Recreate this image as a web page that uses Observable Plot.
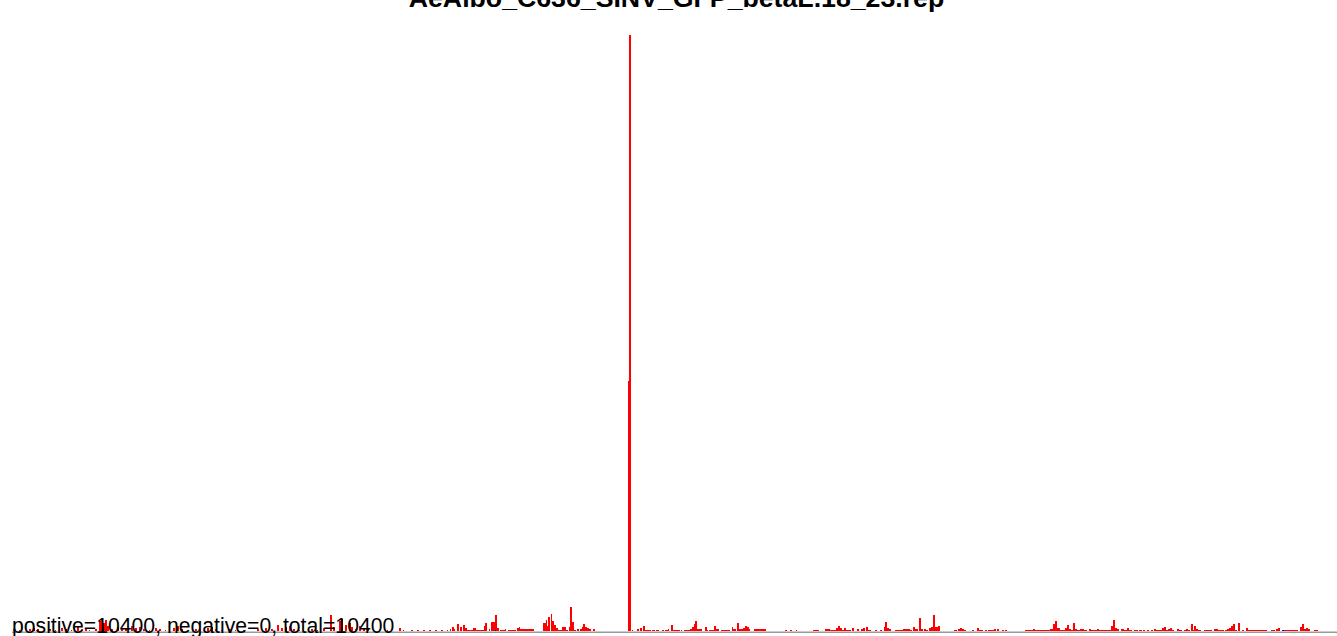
<!DOCTYPE html>
<html><head><meta charset="utf-8">
<script src="https://cdn.jsdelivr.net/npm/d3@7"></script>
<script src="https://cdn.jsdelivr.net/npm/@observablehq/plot@0.6"></script>
<style>
html,body{margin:0;padding:0;background:#fff;overflow:hidden}
#wrap{position:relative;width:1337px;height:636px}
#chart svg{display:block}
#title{position:absolute;left:16px;width:1321px;top:-14.6px;text-align:center;font:bold 26.7px/26.7px "Liberation Sans",Arial,sans-serif;color:#000;white-space:nowrap}
#caption{position:absolute;left:12px;top:614.5px;font:21.2px/21.2px "Liberation Sans",Arial,sans-serif;color:#000;white-space:nowrap}
</style></head><body>
<div id="wrap"><div id="chart"></div><div id="title"></div><div id="caption"></div></div>
<script>
const chartTitle = "AeAlbo_C636_SINV_GFP_betaL.18_23.rep";
const positiveReads = 10400;
const negativeReads = 0;

// [binStart, binEnd, depth] — positive-strand coverage
const coverageLeft = [
[13,15,2],[19,20,1],[29,31,2],[33,35,3],[37,39,2],[43,44,1],[49,51,2],[55,56,1],[61,63,3],[65,67,2],[71,72,1],[77,79,4],[81,83,2],[85,87,3],[89,90,1],[95,97,2],[99,101,10],[101,103,12],[103,105,8],[105,107,11],[107,109,5],[111,113,2],[117,119,4],[121,123,3],[125,127,2],[131,133,5],[135,137,3],[139,141,4],[143,145,2],[149,150,1],[155,157,3],[159,161,2],[165,166,1],[173,175,3],[177,179,5],[181,183,2],[187,188,1],[195,197,2],[207,209,3],[211,213,4],[215,217,2],[221,222,1],[229,231,2],[235,236,1],[243,244,1],[257,259,2],[265,267,3],[271,273,2],[277,279,6],[281,283,3],[285,287,4],[289,291,5],[293,295,2],[299,300,1],[311,313,2],[317,318,1],[323,325,3],[330,332,16],[333,335,4],[339,341,10],[341,343,12],[345,347,6],[349,351,8],[351,353,4],[355,357,2],[359,361,5],[363,365,3],[367,369,2],[373,374,1],[379,380,1],[387,388,1],[399,401,3],[403,404,1],[411,413,1],[417,419,1],[423,425,1],[429,431,1],[435,437,1],[441,443,1],[447,448,1]
];
const coverageMid = [
[450,451,2],[452,454,4],[454,455,2],[457,459,7],[460,462,4],[463,465,6],[465,467,3],[467,473,1],[473,476,3],[476,484,1],[484,485,5],[485,487,8],[489,490,2],[491,495,9],[495,497,16],[497,499,3],[500,505,1],[505,506,2],[508,516,1],[517,519,3],[519,520,4],[520,522,2],[522,534,2],[543,546,8],[546,547,11],[547,548,5],[548,550,14],[551,552,17],[552,554,10],[554,556,6],[556,558,3],[558,562,1],[562,566,4],[566,568,1],[569,570,4],[570,572,24],[572,574,9],[574,576,1],[577,579,2],[580,582,2],[582,583,4],[583,585,7],[585,587,4],[587,589,3],[589,591,2],[593,595,2],[628,629,250],[629,631,596],[632,633,1],[637,639,2],[640,642,3],[643,645,5],[645,651,1],[652,655,1],[656,659,1],[662,664,1],[665,668,1],[668,669,2],[671,673,6],[673,675,1]
];
const coverageRight = [
[675,680,1],[681,682,1],[684,690,1],[690,692,2],[692,694,4],[694,695,7],[695,697,10],[697,702,2],[705,707,4],[707,708,1],[709,714,1],[714,716,5],[716,719,2],[721,730,1],[732,733,4],[733,736,2],[737,739,8],[739,741,2],[741,743,2],[743,745,3],[745,747,5],[747,749,4],[749,750,2],[754,759,2],[759,764,2],[764,766,2],[785,787,1],[790,792,1],[796,797,1],[813,819,1],[825,830,2],[830,836,1],[836,838,3],[838,840,5],[840,842,3],[842,844,1],[844,846,3],[846,851,1],[852,854,3],[857,859,2],[861,863,2],[863,865,3],[866,868,4],[868,871,1],[875,877,1],[880,882,1],[884,885,4],[885,887,9],[887,889,3],[889,891,2],[895,903,1],
[903,910,2],[910,912,1],[913,915,4],[915,918,2],[919,921,13],[921,923,2],[924,926,2],[926,928,1],[929,931,3],[931,933,4],[933,935,16],[935,938,4],[938,940,5],[954,957,1],[958,960,2],[960,962,3],[962,964,2],[964,966,1],[972,974,1],[977,979,3],[979,983,1],[985,987,1],[988,994,1],[994,996,2],[997,999,2],[1002,1004,1],[1005,1007,1],[1025,1033,1],[1033,1035,2],[1035,1050,1],[1050,1053,2],[1053,1055,7],[1055,1057,10],[1057,1060,3],[1060,1065,1],[1065,1067,3],[1067,1069,6],[1069,1071,2],[1071,1073,1],[1073,1075,8],[1075,1077,2],[1077,1080,1],[1080,1084,2],[1084,1087,1],[1089,1091,2],[1091,1097,1],[1097,1099,2],[1099,1111,1],[1111,1113,5],[1113,1115,11],[1115,1117,3],[1117,1119,2],[1121,1124,2],
[1124,1127,1],[1127,1129,3],[1129,1132,1],[1134,1138,1],[1139,1142,1],[1143,1145,1],[1147,1149,1],[1151,1153,1],[1154,1156,2],[1156,1162,1],[1162,1164,3],[1164,1166,4],[1166,1168,1],[1168,1170,2],[1170,1172,3],[1172,1174,1],[1177,1179,2],[1179,1182,1],[1184,1186,1],[1186,1188,2],[1188,1190,1],[1191,1193,7],[1193,1194,1],[1194,1196,5],[1196,1198,2],[1198,1201,1],[1204,1212,1],[1214,1218,2],[1218,1224,1],[1225,1227,1],[1227,1229,2],[1229,1231,3],[1231,1233,5],[1233,1235,7],[1235,1237,1],[1238,1240,8],[1242,1244,1],[1246,1248,3],[1248,1267,1],[1271,1275,1],[1276,1278,2],[1278,1280,3],[1284,1298,1],[1300,1302,4],[1302,1304,7],[1304,1306,2],[1306,1308,3],[1308,1310,2],[1314,1318,1]
];
// faint blue marks
const blueMarks = [[495,496,1],[1282,1284,1]];

const genomeRange = [12, 1337];
const maxDepth = 596;

const coverage = [...coverageLeft, ...coverageMid, ...coverageRight];

const plot = Plot.plot({
  width: 1337,
  height: 636,
  marginTop: 35,
  marginBottom: 5,
  marginLeft: 12,
  marginRight: 0,
  x: {domain: genomeRange, axis: null},
  y: {domain: [0, maxDepth], axis: null},
  marks: [
    Plot.rectY(coverage, {x1: d => d[0], x2: d => d[1], y1: 0, y2: d => d[2], fill: "#ff0000", shapeRendering: "crispEdges"}),
    Plot.rectY(blueMarks, {x1: d => d[0], x2: d => d[1], y1: 0, y2: d => d[2], fill: "#0000ff", shapeRendering: "crispEdges"}),
    Plot.ruleY([0], {stroke: "#9a9a9a", strokeWidth: 1.5, dy: 0.75})
  ]
});
document.getElementById("chart").append(plot);
document.getElementById("title").textContent = chartTitle;
document.getElementById("caption").textContent =
  `positive=${positiveReads}, negative=${negativeReads}, total=${positiveReads + negativeReads}`;
</script>
</body></html>
